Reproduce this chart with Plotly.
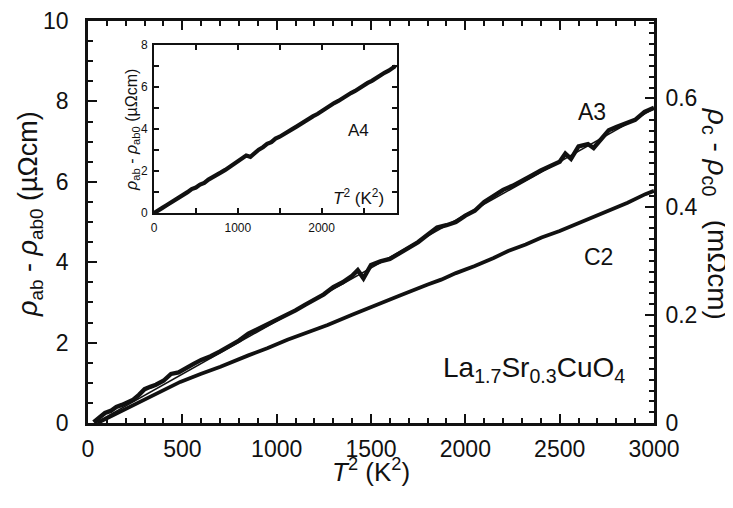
import plotly.graph_objects as go

# ---- data ----
A3_T2 = [30, 60, 90, 120, 150, 180, 210, 240, 270, 300, 330, 360, 400, 440, 480, 520, 560, 600,
         650, 700, 750, 800, 850, 900, 950, 1000, 1050, 1100, 1150, 1200, 1250, 1300, 1350, 1400,
         1430, 1460, 1500, 1550, 1600, 1650, 1700, 1750, 1800, 1850, 1900, 1950, 2000, 2050, 2100,
         2150, 2200, 2250, 2300, 2350, 2400, 2450, 2500, 2530, 2560, 2600, 2650, 2680, 2720, 2760,
         2800, 2850, 2900, 2950, 3000]
A3_rho = [0.02, 0.12, 0.25, 0.30, 0.40, 0.45, 0.52, 0.58, 0.70, 0.84, 0.90, 0.95, 1.05, 1.22, 1.26,
          1.38, 1.47, 1.57, 1.66, 1.78, 1.90, 2.05, 2.22, 2.33, 2.45, 2.58, 2.68, 2.80, 2.94, 3.06,
          3.20, 3.38, 3.50, 3.66, 3.80, 3.60, 3.93, 4.02, 4.08, 4.22, 4.35, 4.50, 4.68, 4.86, 4.92,
          5.00, 5.16, 5.28, 5.50, 5.64, 5.80, 5.90, 6.04, 6.15, 6.28, 6.38, 6.50, 6.70, 6.57, 6.88,
          6.94, 6.84, 7.08, 7.28, 7.36, 7.46, 7.54, 7.74, 7.84]
A3_fit_T2 = [40, 3000]
A3_fit_rho = [0.0, 7.82]

C2_T2 = [50, 120, 223, 350, 489, 600, 702, 850, 950, 1057, 1150, 1270, 1400, 1535, 1650, 1801,
         1872, 1950, 2050, 2150, 2227, 2320, 2404, 2500, 2582, 2680, 2759, 2860, 2954, 3000]
C2_rho = [0.000, 0.012, 0.030, 0.052, 0.076, 0.091, 0.104, 0.125, 0.138, 0.154, 0.166, 0.181,
          0.200, 0.218, 0.235, 0.256, 0.265, 0.277, 0.290, 0.305, 0.318, 0.330, 0.343, 0.355,
          0.367, 0.380, 0.392, 0.407, 0.423, 0.429]

A4_T2 = [0, 50, 100, 150, 200, 250, 300, 350, 400, 450, 500, 550, 600, 650, 700, 750, 800, 850,
         900, 950, 1000, 1050, 1100, 1150, 1200, 1250, 1300, 1350, 1400, 1450, 1500, 1550, 1600,
         1650, 1700, 1750, 1800, 1850, 1900, 1950, 2000, 2050, 2100, 2150, 2200, 2250, 2300, 2350,
         2400, 2450, 2500, 2550, 2600, 2650, 2700, 2750, 2800, 2850, 2880]
A4_rho = [0.00, 0.10, 0.25, 0.38, 0.50, 0.60, 0.76, 0.86, 1.00, 1.15, 1.22, 1.36, 1.44, 1.60, 1.70,
          1.84, 1.94, 2.06, 2.20, 2.30, 2.42, 2.56, 2.74, 2.68, 2.86, 3.02, 3.14, 3.30, 3.38, 3.55,
          3.64, 3.78, 3.90, 4.00, 4.12, 4.26, 4.36, 4.50, 4.62, 4.72, 4.86, 4.98, 5.10, 5.24, 5.34,
          5.48, 5.58, 5.72, 5.82, 5.96, 6.06, 6.20, 6.30, 6.44, 6.54, 6.68, 6.78, 6.90, 7.00]

FONT = "Liberation Sans, Arial, Helvetica, sans-serif"
INK = "#111111"

fig = go.Figure()
fig.add_trace(go.Scatter(x=A3_T2, y=A3_rho, mode="lines", xaxis="x", yaxis="y",
                         line=dict(color=INK, width=4.4), showlegend=False))
fig.add_trace(go.Scatter(x=A3_fit_T2, y=A3_fit_rho, mode="lines", xaxis="x", yaxis="y",
                         line=dict(color=INK, width=1.5), showlegend=False))
fig.add_trace(go.Scatter(x=C2_T2, y=C2_rho, mode="lines", xaxis="x", yaxis="y2",
                         line=dict(color=INK, width=3.8), showlegend=False))
fig.add_trace(go.Scatter(x=A4_T2, y=A4_rho, mode="lines", xaxis="x2", yaxis="y3",
                         line=dict(color=INK, width=4.2), showlegend=False))

main_axis = dict(showline=True, linecolor=INK, linewidth=2.6, ticks="inside", tickcolor=INK,
                 tickwidth=2, ticklen=9, showgrid=False, zeroline=False, automargin=False,
                 tickmode="linear", tickfont=dict(family=FONT, size=23, color=INK))
inset_axis = dict(showline=True, linecolor=INK, linewidth=2, ticks="inside", tickcolor=INK,
                  tickwidth=1.5, ticklen=5, showgrid=False, zeroline=False, mirror="ticks",
                  automargin=False, tickmode="linear",
                  tickfont=dict(family=FONT, size=12, color=INK))

# the page body adds an 8px offset; figure is sized/margined to compensate
fig.update_layout(
    width=725, height=500,
    margin=dict(l=80, r=79, t=13, b=85, autoexpand=False),
    paper_bgcolor="white", plot_bgcolor="white",
    font=dict(family=FONT, color=INK),
    xaxis=dict(domain=[0, 1], range=[0, 3000], anchor="y", tick0=0, dtick=500,
               mirror="ticks", ticklabelstandoff=4,
               minor=dict(tick0=0, dtick=100, ticklen=5, tickwidth=1.5, ticks="inside",
                          tickcolor=INK),
               **main_axis),
    yaxis=dict(domain=[0, 1], range=[0, 10], anchor="x", tick0=0, dtick=2, ticklabelstandoff=12,
               minor=dict(tick0=0, dtick=0.5, ticklen=5, tickwidth=1.5, ticks="inside",
                          tickcolor=INK),
               **main_axis),
    yaxis2=dict(overlaying="y", side="right", anchor="x", range=[0, 0.743], tick0=0, dtick=0.2,
                ticklabelstandoff=4,
                minor=dict(tick0=0, dtick=0.02, ticklen=5, tickwidth=1.5, ticks="inside",
                           tickcolor=INK),
                **main_axis),
    xaxis2=dict(domain=[0.1166, 0.546], anchor="y3", range=[0, 2900], tick0=0, dtick=1000,
                minor=dict(tick0=0, dtick=500, ticklen=5, tickwidth=1.5, ticks="inside",
                           tickcolor=INK),
                ticklabelstandoff=2, **inset_axis),
    yaxis3=dict(domain=[0.522, 0.94], anchor="x2", range=[0, 8], tick0=0, dtick=2,
                minor=dict(tick0=0, dtick=1, ticklen=5, tickwidth=1.5, ticks="inside",
                           tickcolor=INK),
                ticklabelstandoff=2, **inset_axis),
)

ann = []
# axis titles
ann.append(dict(text="<i>T</i><sup>2</sup> (K<sup>2</sup>)", xref="paper", yref="paper",
                x=0.5, y=-0.117, showarrow=False, font=dict(size=26, family=FONT),
                xanchor="center", yanchor="middle"))
ann.append(dict(text="<i>ρ</i><sub>ab</sub> - <i>ρ</i><sub>ab0</sub> (µΩcm)", xref="paper",
                yref="paper", x=-0.1025, y=0.52, showarrow=False, textangle=-90,
                font=dict(size=27, family=FONT), xanchor="center", yanchor="middle"))
ann.append(dict(text="<i>ρ</i><sub>c</sub> - <i>ρ</i><sub>c0</sub>   (mΩcm)", xref="paper",
                yref="paper", x=1.108, y=0.52, showarrow=False, textangle=90,
                font=dict(size=28, family=FONT), xanchor="center", yanchor="middle"))
# series labels
ann.append(dict(text="A3", xref="x", yref="y", x=2671, y=7.74, showarrow=False,
                font=dict(size=23, family=FONT)))
ann.append(dict(text="C2", xref="x", yref="y", x=2708, y=4.13, showarrow=False,
                font=dict(size=23, family=FONT)))
ann.append(dict(text="La<sub>1.7</sub>Sr<sub>0.3</sub>CuO<sub>4</sub>", xref="x", yref="y",
                x=2364, y=1.33, showarrow=False, font=dict(size=28, family=FONT)))
# inset texts
ann.append(dict(text="A4", xref="x2", yref="y3", x=2435, y=3.95, showarrow=False,
                font=dict(size=17, family=FONT)))
ann.append(dict(text="<i>T</i><sup>2</sup> (K<sup>2</sup>)", xref="x2", yref="y3", x=2440,
                y=0.75, showarrow=False, font=dict(size=17, family=FONT)))
ann.append(dict(text="<i>ρ</i><sub>ab</sub> - <i>ρ</i><sub>ab0</sub> (µΩcm)", xref="paper",
                yref="paper", x=0.0795, y=0.729, showarrow=False, textangle=-90,
                font=dict(size=16, family=FONT), xanchor="center", yanchor="middle"))
fig.update_layout(annotations=ann)

fig.write_html("out.html")
